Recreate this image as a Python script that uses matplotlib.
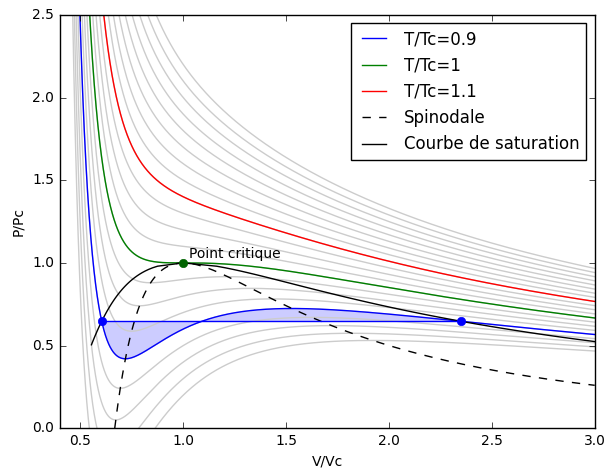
import numpy as np
import matplotlib
matplotlib.use("Agg")
from matplotlib import pyplot as plt

plt.style.use('classic')

# reduced temperatures of the isotherms (T/Tc)
t_gray = [0.8, 0.825, 0.85, 0.875, 0.9, 0.925, 0.95, 0.975, 1.0, 1.025, 1.05,
          1.075, 1.1, 1.125, 1.15, 1.175, 1.2, 1.225, 1.25, 1.275, 1.3]
t_col = [0.9, 1.0, 1.1]
col_names = ['T/Tc=0.9', 'T/Tc=1', 'T/Tc=1.1']
col_colors = ['b', 'g', 'r']
t_sat = np.linspace(0.85, 0.995, 59)


def vdw(v, t):
    return 8 * t / (3 * v - 1) - 3 / v**2


def maxwell(t):
    # equal-area construction for reduced van der Waals
    def roots(p):
        r = np.roots([3 * p, -(p + 8 * t), 9, -3])
        r = np.sort(r[np.abs(r.imag) < 1e-9].real)
        return r[0], r[-1]

    def prim(v):
        return 8 * t / 3 * np.log(3 * v - 1) + 3 / v

    vv = np.linspace(0.4, 5, 40000)
    pp = vdw(vv, t)
    d = np.diff(pp)
    i_min = np.where((d[:-1] < 0) & (d[1:] > 0))[0][0]
    i_max = np.where((d[:-1] > 0) & (d[1:] < 0))[0][0]
    lo, hi = max(pp[i_min], 1e-6), pp[i_max]
    for _ in range(80):
        p = 0.5 * (lo + hi)
        vl, vg = roots(p)
        f = prim(vg) - prim(vl) - p * (vg - vl)
        if f > 0:
            lo = p
        else:
            hi = p
    vl, vg = roots(p)
    return p, vl, vg


fig = plt.figure(figsize=(6.05, 4.71), dpi=100)
ax = fig.add_axes([0.099, 0.091, 0.884, 0.877])

v = np.linspace(0.36, 3.0, 3000)
for t in t_gray:
    ax.plot(v, vdw(v, t), color='#cccccc', lw=1)

for t, name, c in zip(t_col, col_names, col_colors):
    ax.plot(v, vdw(v, t), color=c, lw=1, label=name)

# spinodal
vs = np.linspace(2 / 3., 3.0, 500)
ax.plot(vs, (3 * vs - 2) / vs**3, 'k--', lw=1, label='Spinodale')

# saturation curve
sat = [maxwell(t) for t in t_sat]
ps = np.array([s[0] for s in sat] + [1.0])
vls = np.array([s[1] for s in sat] + [1.0])
vgs = np.array([s[2] for s in sat] + [1.0])
vcurve = np.concatenate([vls, vgs[::-1]])
pcurve = np.concatenate([ps, ps[::-1]])
ax.plot(vcurve, pcurve, 'k-', lw=1, label='Courbe de saturation')

# plateau at T/Tc=0.9
p9, vl9, vg9 = maxwell(0.9)
vf = np.linspace(vl9, vg9, 800)
ax.fill_between(vf, vdw(vf, 0.9), p9, color='b', alpha=0.2, lw=0)
ax.plot([vl9, vg9], [p9, p9], 'b-', lw=1)
ax.plot([vl9, vg9], [p9, p9], 'bo', ms=6, mec='b')
ax.plot([1.0], [1.0], 'o', color='#006400', ms=6, mec='#006400')
ax.text(1.03, 1.03, 'Point critique', fontsize=10)

ax.set_xlim(0.4, 3.0)
ax.set_ylim(0, 2.5)
ax.set_xlabel('V/Vc', fontsize=10)
ax.set_ylabel('P/Pc', fontsize=10)
ax.tick_params(labelsize=10)
ax.legend(loc='upper right', fontsize=12, handlelength=2)

fig.savefig('out.png', dpi=100)
